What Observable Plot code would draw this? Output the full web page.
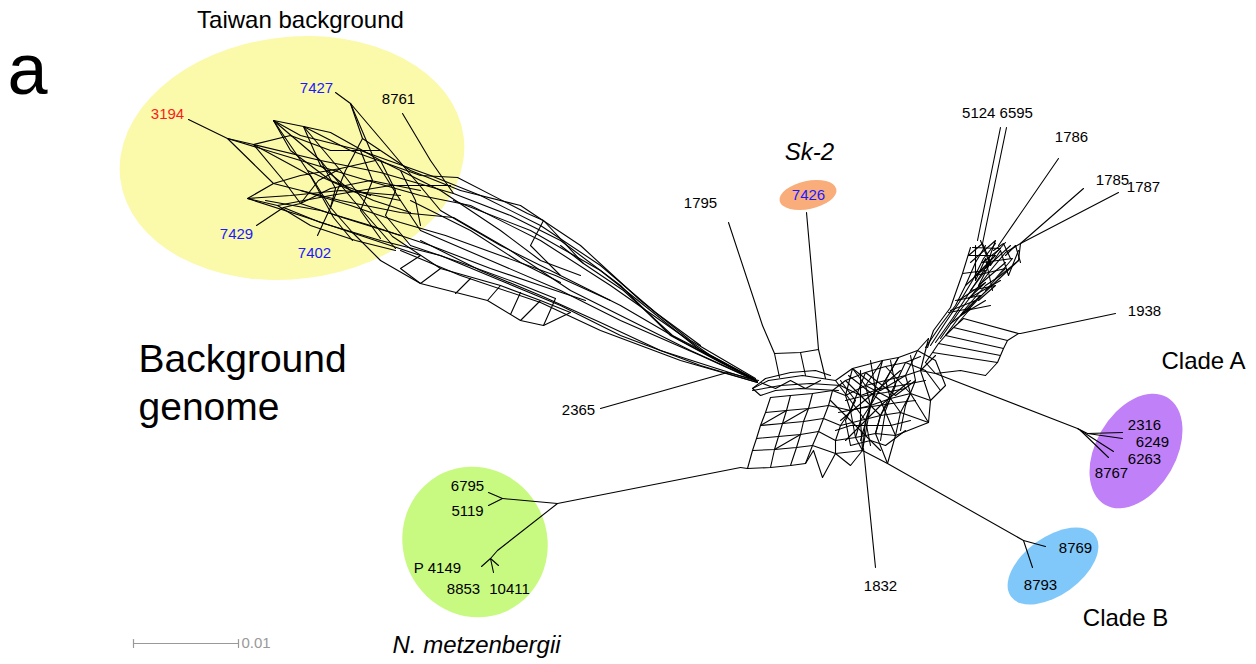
<!DOCTYPE html>
<html><head><meta charset="utf-8">
<script src="https://cdn.jsdelivr.net/npm/d3@7"></script>
<script src="https://cdn.jsdelivr.net/npm/@observablehq/plot@0.6"></script>
<style>body{margin:0;background:#fff} svg{display:block}</style>
</head><body><div id="chart"></div>
<script>
// ---- Data: node coordinates of the splits network ----
const leafEdges = [
 [[188,119],[227,138]],
 [[335,92],[350,103]],
 [[402,113],[430,160]],
 [[256,225],[283,207]],
 [[317,235],[330,207]],
 [[728,222],[762,325]],
 [[806,212],[816,325]],
 [[1000,127],[977,240]],
 [[1006,127],[982,243]],
 [[1058,158],[998,245]],
 [[1083,188],[1020,243]],
 [[1118,192],[1020,243]],
 [[1115,313],[1020,333]],
 [[935,373],[1077,428]],
 [[1077,428],[1087,433],[1122,432]],
 [[1087,433],[1122,438]],
 [[1077,428],[1113,451]],
 [[1080,430],[1108,457]],
 [[600,408],[727,372],[758,380]],
 [[863,448],[875,567]],
 [[887,463],[1023,540]],
 [[1023,540],[1045,546]],
 [[1023,540],[1032,567]],
 [[740,467],[557,503]],
 [[557,503],[502,498]],
 [[502,498],[488,492]],
 [[502,498],[488,505]],
 [[557,503],[497,550],[490,558]],
 [[490,558],[481,566]],
 [[490,558],[498,565]],
 [[490,558],[493,572]]
];
const taiwanMesh = [
 [[227,138],[273,183],[247,198],[277,205]],
 [[227,138],[253,144]],
 [[227,138],[300,160],[360,178],[420,195],[470,205]],
 [[253,144],[320,160],[380,172],[453,193]],
 [[253,144],[283,180],[300,203],[345,218],[400,235]],
 [[253,144],[310,175],[330,207],[352,232],[380,260]],
 [[253,144],[290,135],[330,150],[380,150]],
 [[273,120],[307,170],[333,217],[352,240]],
 [[273,120],[320,160],[353,200],[395,248]],
 [[273,120],[303,126]],
 [[273,120],[300,135],[360,150],[430,175],[480,195]],
 [[273,120],[290,150],[330,180],[370,195]],
 [[303,126],[350,150],[420,175],[457,177]],
 [[303,126],[340,170],[373,213],[392,236]],
 [[303,126],[330,132],[380,160],[440,190]],
 [[303,126],[320,165],[350,190],[400,200]],
 [[350,103],[373,157],[400,200],[420,230]],
 [[350,103],[362,138],[410,170],[460,190]],
 [[350,103],[390,150],[440,210]],
 [[430,160],[453,193]],
 [[273,183],[340,200],[400,212],[453,217]],
 [[273,183],[300,175],[340,168],[375,160]],
 [[247,198],[300,215],[360,235],[420,255]],
 [[247,198],[290,195],[340,190],[400,195]],
 [[277,205],[330,195],[390,185],[450,185]],
 [[277,205],[310,225],[355,240],[395,250]],
 [[283,207],[320,222],[380,240],[440,255]],
 [[283,207],[300,203],[330,188],[370,180],[420,190]],
 [[330,207],[345,170],[362,138]],
 [[300,203],[318,180],[340,168]],
 [[320,160],[335,188],[330,207]],
 [[360,150],[372,180],[360,210],[380,238]],
 [[380,160],[395,190],[385,215],[410,245]],
 [[400,170],[415,200],[420,225]],
 [[307,170],[340,185],[373,200],[410,212]],
 [[300,190],[350,205],[400,222],[445,235]],
 [[265,200],[320,210],[370,225],[430,245]]
];
const bundle = [
 [[457,177],[527,213],[543,220],[583,263],[623,290],[672,335],[705,352],[753,378]],
 [[453,193],[510,215],[560,240],[620,285],[670,335],[720,362],[753,378]],
 [[453,200],[530,230],[600,270],[650,310],[700,350],[753,379]],
 [[470,205],[540,240],[610,285],[660,320],[710,355],[755,379]],
 [[460,190],[520,205],[580,245],[640,300],[690,340],[755,378]],
 [[480,195],[540,225],[600,265],[655,312],[700,345]],
 [[440,210],[500,245],[570,280],[620,305],[680,340],[755,380]],
 [[453,217],[510,250],[570,290],[630,320],[690,350],[756,380]],
 [[420,230],[490,260],[560,290],[620,320],[700,355],[757,381]],
 [[420,240],[480,270],[540,295],[600,322],[660,350],[757,381]],
 [[440,255],[500,280],[560,305],[620,335],[700,365],[757,382]],
 [[400,250],[460,275],[540,302],[600,330],[680,360],[757,382]],
 [[445,235],[500,255],[555,275],[610,300]],
 [[430,245],[490,268],[540,285],[585,300]],
 [[410,200],[470,230],[520,262],[560,282]],
 [[440,190],[500,230],[540,260],[580,275]],
 [[380,260],[420,283],[487,300],[520,320],[543,325],[570,312]],
 [[392,236],[440,268],[500,285],[540,300],[570,312]],
 [[410,245],[460,262],[515,282],[555,298]],
 [[440,268],[420,283]],
 [[470,278],[455,293]],
 [[500,285],[487,300]],
 [[520,292],[510,314]],
 [[540,300],[520,320]],
 [[555,298],[543,325]],
 [[420,255],[400,268],[420,283]],
 [[543,220],[530,245],[560,275]],
 [[583,263],[560,245]]
];
const centralMesh = [
 [[762,325],[774,353],[779,377]],
 [[774,353],[800,352],[818,349]],
 [[800,352],[805,375]],
 [[816,325],[818,349],[825,378]],
 [[752,388],[768,380],[802,375],[835,380]],
 [[752,388],[765,378],[790,372],[815,370],[830,375]],
 [[752,390],[780,385],[810,383],[840,385]],
 [[752,388],[760,395],[775,390],[800,388],[838,390]],
 [[760,382],[775,388],[790,380],[805,388],[820,380]],
 [[770,397],[790,395],[812,393],[832,390]],
 [[765,412],[786,410],[808,408],[828,405]],
 [[760,425],[782,423],[803,421],[823,418]],
 [[756,438],[778,436],[800,434],[818,431]],
 [[752,450],[774,449],[796,447],[812,445]],
 [[740,467],[747,468],[770,467],[790,465],[805,463]],
 [[770,397],[765,412],[760,425],[756,438],[752,450],[747,468]],
 [[790,395],[786,410],[782,423],[778,436],[774,449],[770,467]],
 [[812,393],[808,408],[803,421],[800,434],[796,447],[790,465]],
 [[832,390],[828,405],[823,418],[818,431],[812,445],[805,463]],
 [[760,425],[786,410]],
 [[774,449],[800,434]],
 [[782,423],[808,408]],
 [[835,380],[852,368],[882,360],[898,357],[917,350],[928,338]],
 [[832,390],[845,380],[865,372],[885,366],[905,362],[920,356]],
 [[832,390],[845,395],[865,385],[885,380],[905,375],[920,370],[935,355]],
 [[828,405],[850,410],[870,405],[890,398],[910,393],[930,400]],
 [[823,418],[840,425],[860,420],[880,415],[900,412],[928,422]],
 [[818,431],[835,440],[855,437],[875,433],[895,435],[928,422]],
 [[812,445],[835,453],[862,450],[887,463]],
 [[805,463],[813,450],[822,477],[835,453],[850,465],[862,450]],
 [[852,368],[845,395],[850,410],[840,425],[835,440],[835,453]],
 [[882,360],[865,385],[870,405],[860,420],[855,437],[862,450]],
 [[898,357],[885,380],[890,398],[880,415],[875,433],[887,463]],
 [[917,350],[905,375],[910,393],[900,412],[895,435],[887,463]],
 [[928,338],[920,370],[930,400],[928,422]],
 [[852,368],[865,385],[890,398],[900,412]],
 [[882,360],[870,405],[880,415]],
 [[845,380],[870,405],[862,450]],
 [[865,372],[850,410],[855,437]],
 [[898,357],[870,405],[860,440]],
 [[905,362],[880,415],[875,433]],
 [[885,366],[910,393],[928,422]],
 [[835,380],[865,420],[862,450]],
 [[848,375],[880,400],[895,435]],
 [[860,370],[860,420],[862,450]],
 [[840,385],[860,395],[880,388],[900,385],[925,380]],
 [[845,400],[865,395],[885,392],[905,388]],
 [[838,412],[858,408],[878,405],[898,402],[915,400]],
 [[835,430],[850,425],[870,425],[890,425],[910,420]],
 [[850,445],[870,440],[885,445],[905,430]],
 [[870,360],[875,390],[865,420],[870,445]],
 [[890,360],[895,385],[885,410],[880,440]],
 [[910,355],[915,380],[905,405],[900,430]],
 [[840,380],[855,400],[845,420],[850,445]],
 [[852,368],[880,390],[905,375]],
 [[865,372],[895,395],[915,380]],
 [[840,420],[870,395],[900,370]],
 [[845,440],[880,405],[910,380]],
 [[830,400],[860,430],[880,450]],
 [[917,350],[935,360],[945,385],[930,400]],
 [[905,362],[925,370],[940,390]],
 [[920,370],[935,373]],
 [[925,362],[935,373]]
];
const northeastMesh = [
 [[925,347],[940,325],[955,305],[965,285],[975,262],[985,245]],
 [[930,345],[945,322],[960,300],[972,280],[983,258],[995,243]],
 [[935,342],[952,318],[967,295],[980,275],[993,255],[1005,242]],
 [[940,338],[958,312],[975,290],[990,270],[1005,252],[1020,243]],
 [[945,335],[965,308],[985,285],[1000,275],[1018,260]],
 [[962,273],[985,270],[970,290],[995,285],[978,300]],
 [[968,255],[995,255],[975,275],[1005,268],[985,290]],
 [[972,247],[1000,248],[982,262],[1012,258],[995,278]],
 [[955,300],[980,295],[965,310],[990,305]],
 [[948,312],[970,308],[958,322]],
 [[980,240],[990,265],[1000,250],[1008,275],[1018,250]],
 [[975,245],[975,280],[985,258],[992,290]],
 [[958,300],[985,282],[968,298],[1000,280]],
 [[965,285],[990,262],[978,285],[1005,262]],
 [[950,310],[975,300],[960,315],[985,300]],
 [[970,262],[995,240],[985,268],[1010,245]],
 [[1020,243],[1018,260],[1000,277],[983,293],[967,310],[950,323]],
 [[970,247],[962,273],[950,307],[933,330],[927,347]],
 [[968,255],[982,243],[990,262]],
 [[993,250],[1003,243],[1010,258]],
 [[1005,255],[1015,245],[1020,262]],
 [[963,318],[1018,333]],
 [[953,327],[1007,340]],
 [[945,335],[1003,348]],
 [[938,343],[1000,355]],
 [[932,352],[997,362]],
 [[963,318],[953,327],[945,335],[938,343],[932,352],[925,362]],
 [[1020,333],[1018,333],[1007,340],[1003,348],[1000,355],[997,362],[985,375]],
 [[935,373],[960,370],[985,375]]
];
const scaleBar = [
 [[133,643],[238,643]],
 [[133,639],[133,647]],
 [[238,639],[238,647]]
];

// ellipses (highlighted groups)
const ellipseCx = [292, 808, 1136, 1053, 475];
const ellipseCy = [158, 195, 451, 566, 542];
const ellipseRx = [173, 29, 62, 52, 72];
const ellipseRy = [121, 14, 40, 29, 76];
const ellipseAngle = [-7, -12, -60, -36, -25];
const ellipseColor = ["#fbf9aa", "#f8ad7a", "#c080f8", "#80c8fa", "#c8fa82"];

// labels
const blackLabels = ["8761","1795","5124 6595","1786","1785","1787","1938","2316","6249","6263","8767","2365","1832","8769","8793","6795","5119","P 4149","8853","10411"];
const blackLabelX = [398,700,997,1071,1112,1143,1144,1144,1152,1144,1111,578,880,1075,1040,467,467,437,463,509];
const blackLabelY = [99,203,113,137,180,187,311,425,442,459,473,410,586,548,585,486,511,568,589,589];
const blueLabels = ["7427","7429","7402","7426"];
const blueLabelX = [316,236,314,808];
const blueLabelY = [88,234,253,195];
const redLabels = ["3194"];
const redLabelX = [167];
const redLabelY = [114];
const groupLabels = ["Taiwan background","Clade A","Clade B"];
const groupLabelX = [300,1203,1125];
const groupLabelY = [20,361,618];
const italicLabels = ["Sk-2","N. metzenbergii"];
const italicLabelX = [809,476];
const italicLabelY = [152,645];
const bigLabels = ["Background","genome"];
const bigLabelX = [138,138];
const bigLabelY = [359,407];

// ---- build tables ----
function toRows(groups) {
  const rows = []; let id = 0;
  for (const g of groups) for (const pl of g) { for (const [x, y] of pl) rows.push({id, x, y}); id++; }
  return rows;
}
const netRows = toRows([taiwanMesh, bundle, centralMesh, northeastMesh, leafEdges]);
const barRows = toRows([scaleBar]);
const lab = (t, xs, ys) => t.map((text, i) => ({text, x: xs[i], y: ys[i]}));
const ellipses = ellipseCx.map((cx, i) => ({cx, cy: ellipseCy[i], rx: ellipseRx[i], ry: ellipseRy[i], a: ellipseAngle[i], c: ellipseColor[i]}));

function ellipseMark(index, scales) {
  const sx = (scales && scales.x) || (d => d), sy = (scales && scales.y) || (d => d);
  const g = d3.create("svg:g");
  for (const e of ellipses) {
    g.append("ellipse")
      .attr("transform", `translate(${sx(e.cx)},${sy(e.cy)}) rotate(${e.a})`)
      .attr("rx", Math.abs(sx(e.rx) - sx(0)))
      .attr("ry", Math.abs(sy(e.ry) - sy(0)))
      .attr("fill", e.c);
  }
  return g.node();
}

const font = "Liberation Sans, Arial, Helvetica, sans-serif";
const chart = Plot.plot({
  width: 1256, height: 664, margin: 0,
  x: {domain: [0, 1256], range: [0, 1256], axis: null},
  y: {domain: [0, 664], range: [0, 664], axis: null},
  style: {background: "white", fontFamily: font},
  marks: [
    ellipseMark,
    Plot.line(netRows, {x: "x", y: "y", z: "id", stroke: "black", strokeWidth: 1.1, curve: "linear"}),
    Plot.line(barRows, {x: "x", y: "y", z: "id", stroke: "#999", strokeWidth: 1.2}),
    Plot.text([{text: "0.01", x: 241, y: 643}], {x: "x", y: "y", text: "text", textAnchor: "start", fill: "#999", fontSize: 15, fontFamily: font}),
    Plot.text(lab(blackLabels, blackLabelX, blackLabelY), {x: "x", y: "y", text: "text", fill: "black", fontSize: 15, fontFamily: font}),
    Plot.text(lab(blueLabels, blueLabelX, blueLabelY), {x: "x", y: "y", text: "text", fill: "#1a1aff", fontSize: 15, fontFamily: font}),
    Plot.text(lab(redLabels, redLabelX, redLabelY), {x: "x", y: "y", text: "text", fill: "#ff1a1a", fontSize: 15, fontFamily: font}),
    Plot.text(lab(groupLabels, groupLabelX, groupLabelY), {x: "x", y: "y", text: "text", fill: "black", fontSize: 24, fontFamily: font}),
    Plot.text(lab(italicLabels, italicLabelX, italicLabelY), {x: "x", y: "y", text: "text", fill: "black", fontSize: 24, fontStyle: "italic", fontFamily: font}),
    Plot.text(lab(bigLabels, bigLabelX, bigLabelY), {x: "x", y: "y", text: "text", textAnchor: "start", fill: "black", fontSize: 39, fontFamily: font}),
    Plot.text([{text: "a", x: 27, y: 70}], {x: "x", y: "y", text: "text", fill: "black", fontSize: 72, fontFamily: font})
  ]
});
document.getElementById("chart").appendChild(chart);
</script></body></html>
